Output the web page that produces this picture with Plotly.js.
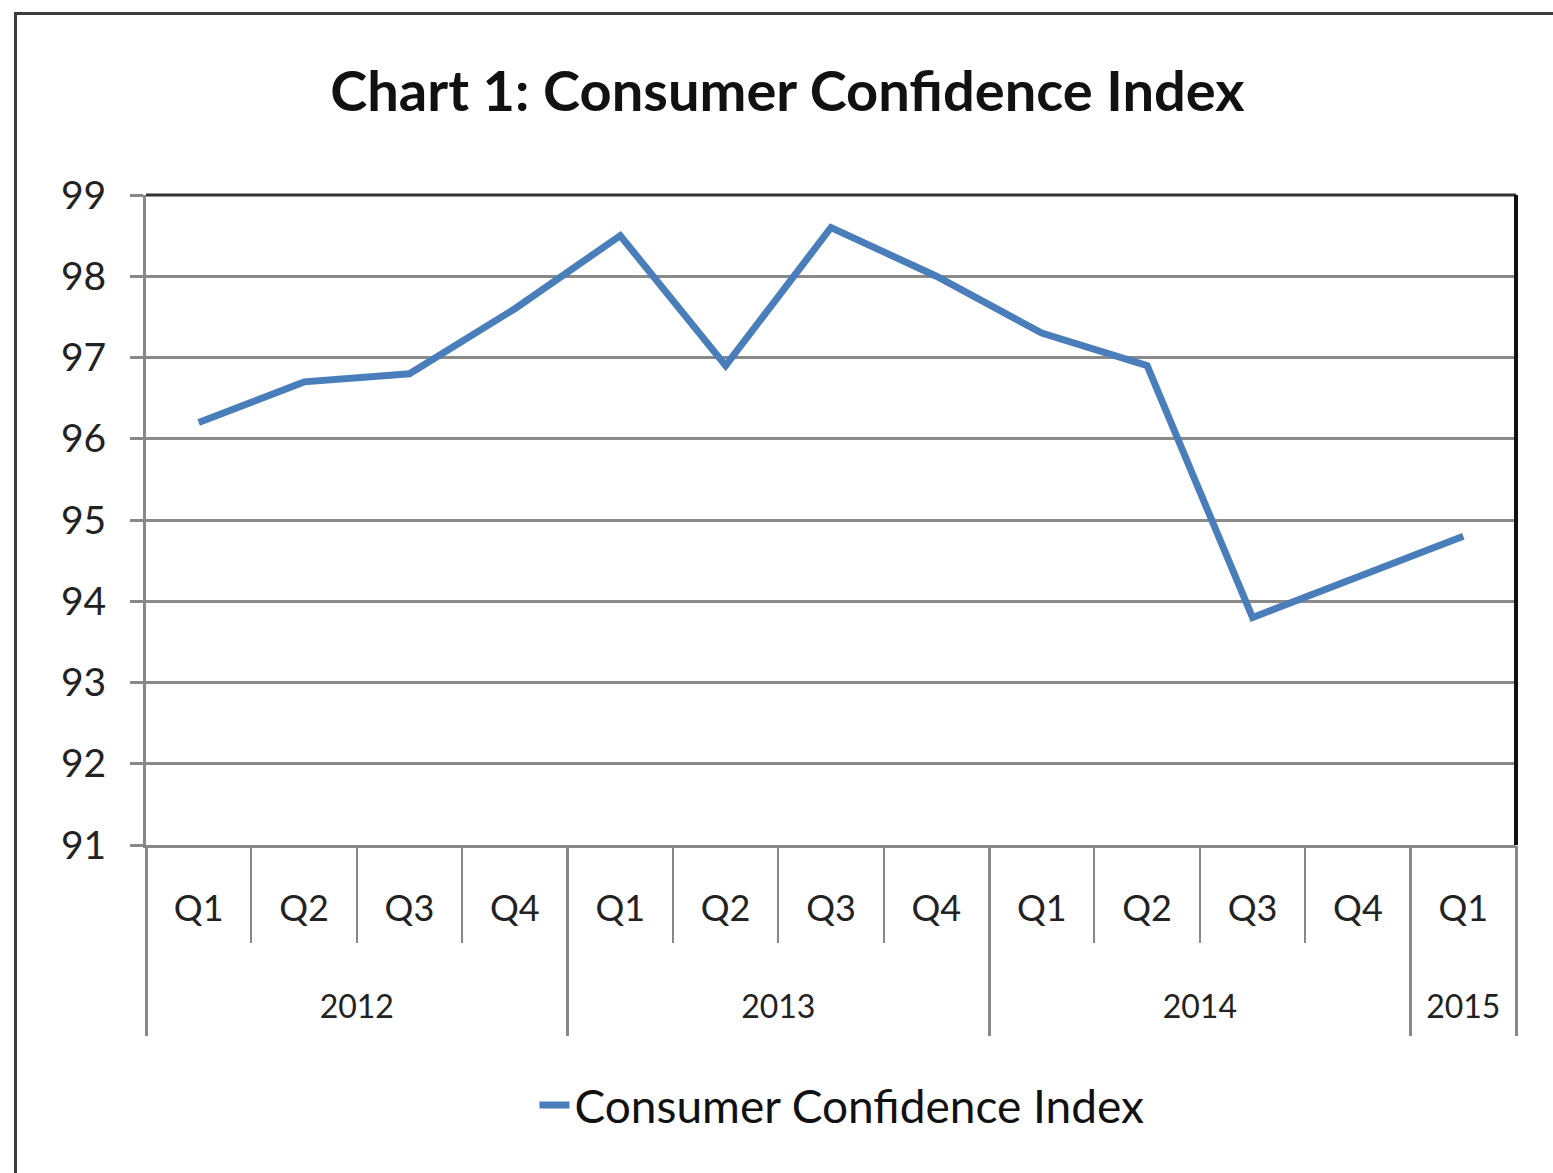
<!DOCTYPE html>
<html>
<head>
<meta charset="utf-8">
<script src="https://cdn.plot.ly/plotly-3.0.1.min.js"></script>
<style>
  html, body { margin: 0; padding: 0; background: #fff; overflow: hidden; }
  #frame { position: absolute; left: 14px; top: 12px; width: 2000px; height: 2000px; border: 3px solid #3c3c3c; box-sizing: border-box; }
  #chart { position: absolute; left: 0; top: 0; width: 1553px; height: 1173px; }
</style>
</head>
<body>
<div id="frame"></div>
<div id="chart"></div>
<script>
const years = ["2012","2012","2012","2012","2013","2013","2013","2013","2014","2014","2014","2014","2015"];
const quarters = ["Q1","Q2","Q3","Q4","Q1","Q2","Q3","Q4","Q1","Q2","Q3","Q4","Q1"];
const cci = [96.2, 96.7, 96.8, 97.6, 98.5, 96.9, 98.6, 98.0, 97.3, 96.9, 93.8, 94.3, 94.8];
const seriesName = "Consumer Confidence Index";

// category positions (index along the category axis)
const pos = quarters.map((q, i) => i);

// year groups derived from the years array
const yearNames = [];
const yearCenters = [];
const yearBounds = [-0.5];
let start = 0;
for (let i = 1; i <= years.length; i++) {
  if (i === years.length || years[i] !== years[start]) {
    yearNames.push(years[start]);
    yearCenters.push((start + i - 1) / 2);
    yearBounds.push(i - 0.5);
    start = i;
  }
}

const fontFam = "Lato, 'Open Sans', sans-serif";
const xr = [-0.5, quarters.length - 0.5];

const trace = {
  type: "scatter",
  mode: "lines",
  x: pos,
  y: cci,
  name: seriesName,
  line: { color: "#4A7EBB", width: 7 }
};

// empty helper trace so the year (group) axis is drawn
const groupAxisTrace = {
  type: "scatter",
  mode: "lines",
  x: [],
  y: [],
  xaxis: "x2",
  showlegend: false,
  hoverinfo: "skip"
};

const layout = {
  width: 1553,
  height: 1173,
  paper_bgcolor: "rgba(0,0,0,0)",
  plot_bgcolor: "rgba(0,0,0,0)",
  margin: { l: 146, r: 37, t: 195, b: 328 },
  title: {
    text: "<b>Chart 1: Consumer Confidence Index</b>",
    font: { family: fontFam, size: 56, color: "#111" },
    x: 0.507, xanchor: "center",
    y: 0.922, yanchor: "middle"
  },
  font: { family: fontFam, color: "#222" },
  xaxis: {
    range: xr,
    tickmode: "array", tickvals: pos, ticktext: quarters,
    showline: true, linecolor: "#888", linewidth: 3,
    showgrid: false, zeroline: false,
    ticks: "",
    ticklabelstandoff: 30,
    tickfont: { family: fontFam, size: 36, color: "#222" },
    minor: { tick0: -0.5, dtick: 1, ticks: "outside", ticklen: 95, tickcolor: "#888", tickwidth: 2, showgrid: false }
  },
  xaxis2: {
    overlaying: "x", anchor: "y", side: "bottom",
    range: xr,
    tickmode: "array", tickvals: yearCenters, ticktext: yearNames,
    showline: false, showgrid: false, zeroline: false,
    ticks: "",
    ticklabelstandoff: 140,
    tickfont: { family: fontFam, size: 32, color: "#222" },
    minor: { tickmode: "array", tickvals: yearBounds, ticks: "outside", ticklen: 190, tickcolor: "#888", tickwidth: 3, showgrid: false }
  },
  yaxis: {
    range: [91, 99],
    dtick: 1,
    showline: true, linecolor: "#888", linewidth: 3,
    showgrid: true, gridcolor: "#8a8a8a", gridwidth: 3,
    zeroline: false,
    ticks: "outside", ticklen: 13, tickcolor: "#888", tickwidth: 3,
    ticklabelstandoff: 16,
    tickfont: { family: fontFam, size: 39, color: "#222" }
  },
  showlegend: true,
  legend: {
    orientation: "h",
    x: 0.508, xanchor: "center",
    y: -0.4, yanchor: "middle",
    font: { family: fontFam, size: 46, color: "#111" }
  },
  shapes: [
    { type: "line", xref: "paper", yref: "paper", x0: 0, x1: 1, y0: 1, y1: 1, line: { color: "#333", width: 3 } },
    { type: "line", xref: "paper", yref: "paper", x0: 1, x1: 1, y0: 0, y1: 1, line: { color: "#111", width: 4 } }
  ]
};

Plotly.newPlot("chart", [trace, groupAxisTrace], layout, { staticPlot: true, displayModeBar: false });
</script>
</body>
</html>
